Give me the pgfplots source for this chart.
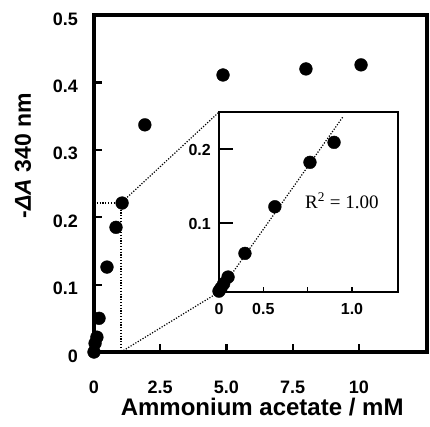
\documentclass[border=0pt]{standalone}
\usepackage{fontspec}
\setmainfont{Liberation Sans}
\newfontfamily\rserif{Liberation Serif}
\usepackage{pgfplots}
\pgfplotsset{compat=1.18}
\usetikzlibrary{calc}
\tikzset{zoomdot/.style={black, line width=1.2pt, dash pattern=on 1.2pt off 1.6pt}}
\begin{document}
\begin{tikzpicture}
\begin{axis}[name=main, scale only axis, width=333pt, height=337pt,
  xmin=0, xmax=12.57, ymin=0, ymax=0.5,
  axis line style={line width=3.2pt},
  xtick={0,2.5,5,7.5,10}, xticklabels={0,2.5,5.0,7.5,10},
  ytick={0,0.1,0.2,0.3,0.4,0.5}, yticklabels={0,0.1,0.2,0.3,0.4,0.5},
  tick align=inside, xtick pos=bottom, ytick pos=left,
  major tick length=8pt, tick style={line width=2.2pt, black},
  ticklabel style={font=\bfseries\fontsize{18}{18}\selectfont},
  xticklabel style={anchor=base, inner sep=0pt, yshift=-41pt},
  yticklabel style={anchor=east, inner sep=0pt, xshift=-16pt, yshift=-4pt},
  xlabel={Ammonium acetate / mM},
  ylabel={-{\itshape ΔA} 340 nm},
  label style={font=\bfseries\fontsize{23}{23}\selectfont},
  xlabel style={at={(axis description cs:0.505,-0.187)}, anchor=base, font=\bfseries\fontsize{24}{24}\selectfont},
  ylabel style={at={(axis description cs:-0.213,0.583)}, anchor=center},
  clip=false,
]
\draw[black, line width=3.2pt] (rel axis cs:0,0) rectangle (rel axis cs:1,1);
\addplot[only marks, mark=*, mark size=6.4pt, black] coordinates {
  (0,0) (0.04,0.013) (0.11,0.022) (0.19,0.05) (0.49,0.126) (0.83,0.185) (1.06,0.221)
  (1.92,0.337) (4.87,0.411) (8.0,0.42) (10.08,0.426)
};
\addplot[zoomdot] coordinates {(0,0.221) (1.02,0.221) (1.02,0)};
\addplot[zoomdot] coordinates {(1.02,0.221) (4.72,0.356)};
\addplot[zoomdot] coordinates {(1.02,0) (4.72,0.089)};
\end{axis}
\begin{axis}[name=inset, at={($(main.south west)+(125pt,60pt)$)}, anchor=south west,
  scale only axis, width=179pt, height=180pt,
  xmin=0, xmax=1.346, ymin=0.0068, ymax=0.25,
  axis line style={line width=1.6pt},
  xtick={0,0.3333,0.6667,1}, xticklabels={0,0.5,,1.0},
  ytick={0.1,0.2}, yticklabels={0.1,0.2},
  tick align=inside, xtick pos=bottom, ytick pos=left,
  major tick length=5pt, tick style={line width=1.4pt, black},
  ticklabel style={font=\bfseries\fontsize{16}{16}\selectfont},
  xticklabel style={anchor=base, inner sep=0pt, yshift=-22pt},
  yticklabel style={anchor=east, inner sep=0pt, xshift=-8pt, yshift=-1pt},
  clip=false,
]
\draw[black, line width=1.6pt] (rel axis cs:0,0) rectangle (rel axis cs:1,1);
\addplot[black, line width=1.4pt] coordinates {(0,0.1) (0.105,0.1)};
\addplot[black, line width=1.4pt] coordinates {(0,0.2) (0.105,0.2)};
\addplot[zoomdot] coordinates {(0,0.0068) (0.93,0.243)};
\addplot[only marks, mark=*, mark size=6.4pt, black] coordinates {
  (0,0.008) (0.015,0.012) (0.035,0.018) (0.068,0.027) (0.195,0.059) (0.42,0.122) (0.684,0.182) (0.865,0.209)
};
\node[anchor=base west, inner sep=0pt, font=\rserif\fontsize{19}{19}\selectfont] at (axis cs:0.647,0.12) {R\textsuperscript{2} = 1.00};
\end{axis}
\pgfresetboundingbox
\path[use as bounding box] ($(main.south west)+(-94pt,-74pt)$) rectangle ++(430pt,426pt);
\end{tikzpicture}
\end{document}
